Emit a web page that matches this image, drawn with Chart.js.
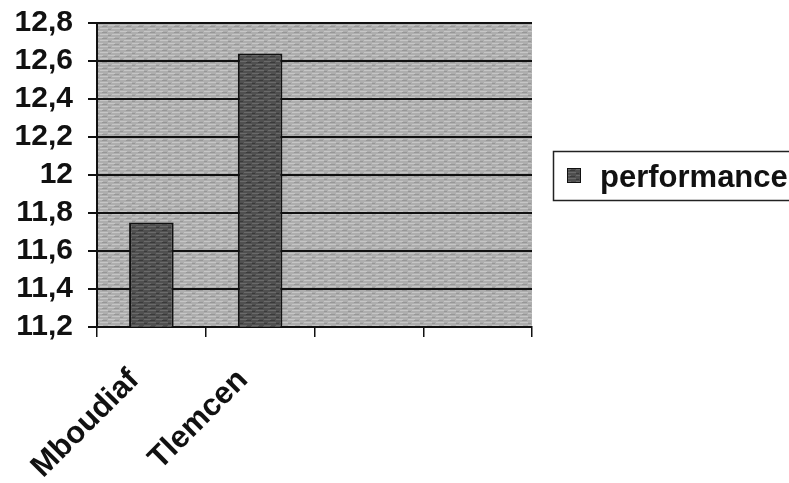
<!DOCTYPE html>
<html>
<head>
<meta charset="utf-8">
<script src="https://cdn.jsdelivr.net/npm/chart.js@4.4.1/dist/chart.umd.min.js"></script>
<style>
  body { margin: 0; background: #fff; }
</style>
</head>
<body>
<canvas id="myChart" width="789" height="483"></canvas>
<script>
const categories = ['Mboudiaf', 'Tlemcen', '', ''];
const performance = [11.75, 12.64, null, null];
const seriesName = 'performance';
const yMin = 11.2, yMax = 12.8, yStep = 0.2;

const FONT = "'Liberation Sans', Arial, sans-serif";

// grey streaky fill, a bit like the old excel hatching
function makeTexture(base, light, dark) {
  const c = document.createElement('canvas');
  c.width = 12; c.height = 6;
  const g = c.getContext('2d');
  g.fillStyle = base;
  g.fillRect(0, 0, 12, 6);
  g.fillStyle = light;
  g.fillRect(0, 1, 7, 1);
  g.fillRect(4, 4, 8, 1);
  g.fillStyle = dark;
  g.fillRect(6, 2, 5, 1);
  g.fillRect(0, 5, 3, 1);
  return g.createPattern(c, 'repeat');
}

const ctx = document.getElementById('myChart');
const plotFill = makeTexture('#aeaeae', '#c6c6c6', '#979797');
const barFill = makeTexture('#505050', '#6a6a6a', '#3a3a3a');

const plotBg = {
  id: 'plotBg',
  beforeDraw(chart) {
    const a = chart.chartArea;
    const c = chart.ctx;
    c.save();
    c.fillStyle = plotFill;
    c.fillRect(a.left, a.top, a.right - a.left, a.bottom - a.top);
    c.restore();
  }
};

const boxLegend = {
  id: 'boxLegend',
  afterDraw(chart) {
    const c = chart.ctx;
    c.save();
    c.strokeStyle = '#222';
    c.lineWidth = 1.5;
    c.strokeRect(553.5, 151.5, 260, 49);
    c.fillStyle = barFill;
    c.fillRect(567, 168, 13, 14);
    c.strokeStyle = '#111';
    c.lineWidth = 1;
    c.strokeRect(567.5, 168.5, 13, 14);
    c.fillStyle = '#111';
    c.font = 'bold 31px ' + FONT;
    c.textBaseline = 'alphabetic';
    c.fillText(chart.data.datasets[0].label, 600, 187);
    c.restore();
  }
};

const chart = new Chart(ctx, {
  type: 'bar',
  data: {
    labels: categories,
    datasets: [{
      label: seriesName,
      data: performance,
      backgroundColor: barFill,
      borderColor: '#111',
      borderWidth: 2,
      barPercentage: 0.41,
      categoryPercentage: 1
    }]
  },
  options: {
    responsive: false,
    animation: false,
    layout: { padding: { left: 0, top: 23, right: 257, bottom: 0 } },
    plugins: {
      legend: { display: false },
      tooltip: { enabled: false }
    },
    scales: {
      y: {
        min: yMin,
        max: yMax,
        afterFit(s) { s.width = 97; s.paddingTop = 0; s.paddingBottom = 0; },
        border: { color: '#111', width: 2 },
        grid: { color: '#111', lineWidth: 2, tickLength: 9 },
        ticks: {
          stepSize: yStep,
          autoSkip: false,
          color: '#111',
          padding: 15,
          font: { family: FONT, weight: 'bold', size: 30 },
          callback: v => String(Number(v.toFixed(1))).replace('.', ',')
        }
      },
      x: {
        afterFit(s) { s.height = 156; s.paddingLeft = 0; s.paddingRight = 0; },
        border: { color: '#111', width: 2 },
        grid: { offset: true, drawOnChartArea: false, color: '#111', lineWidth: 1.5, tickLength: 10 },
        ticks: {
          autoSkip: false,
          color: '#111',
          minRotation: 45,
          maxRotation: 45,
          padding: 25,
          labelOffset: -17,
          font: { family: FONT, weight: 'bold', size: 31 }
        }
      }
    }
  },
  plugins: [plotBg, boxLegend]
});
</script>
</body>
</html>
